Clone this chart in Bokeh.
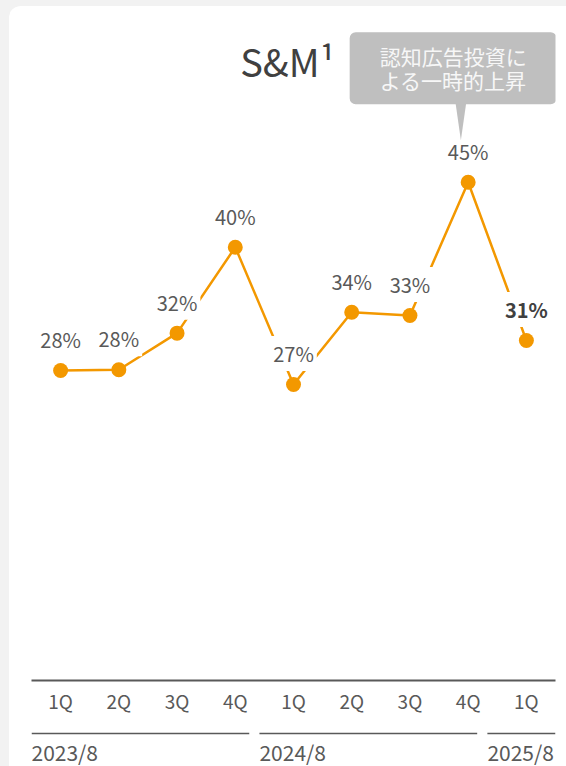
import numpy as np
from bokeh.plotting import figure
from bokeh.models import Range1d, FixedTicker, ColumnDataSource, Spacer
from bokeh.layouts import column, row
from bokeh.core.properties import value
from bokeh.embed import file_html
from bokeh.resources import INLINE

# ---- data ----
quarters = ["1Q", "2Q", "3Q", "4Q", "1Q", "2Q", "3Q", "4Q", "1Q"]
fiscal_years = ["2023/8", "2024/8", "2025/8"]
year_sizes = [4, 4, 1]
sm_ratio = [27.95, 28.02, 31.32, 39.07, 26.69, 33.21, 32.91, 44.93, 30.66]
sm_labels = ["28%", "28%", "32%", "40%", "27%", "34%", "33%", "45%", "31%"]
title_text = "S&M¹"
callout_text = "認知広告投資に\nよる一時的上昇"
callout_index = 7

# ---- style / layout ----
FONT = "Noto Sans CJK JP"
ORANGE = "#f39800"
GREY = "#595959"
DARK = "#404040"
CALLOUT = "#bfbfbf"
PAGE_BG = "#f2f2f2"
PAD_L, PAD_T = 9, 6
W = 566 - PAD_L
H1, H2 = 716, 44
BL, BR, BB = 22, 11, 42
FRAME_H = H1 - BB
PPU_Y = 11.09
Y_END = FRAME_H / PPU_Y

n = len(quarters)
xs = list(range(n))
ppu_x = (W - BL - BR) / n
ppu_y = FRAME_H / Y_END
x_range = Range1d(-0.5, n - 0.5)

p = figure(width=W, height=H1, x_range=x_range, y_range=Range1d(0, Y_END),
           output_backend="svg", toolbar_location=None, y_axis_location=None,
           min_border_left=BL, min_border_right=BR, min_border_top=0, min_border_bottom=BB,
           outline_line_color=None, background_fill_color="white", border_fill_color="white")
p.grid.visible = False
p.styles = {"border-top-left-radius": "12px", "overflow": "hidden",
            "background-color": "white"}

ax = p.xaxis[0]
ax.ticker = FixedTicker(ticks=xs)
ax.major_label_overrides = {i: q for i, q in enumerate(quarters)}
ax.axis_line_color = GREY
ax.axis_line_width = 2
ax.major_tick_line_color = None
ax.minor_tick_line_color = None
ax.major_label_standoff = 0
ax.major_label_text_font = FONT
ax.major_label_text_font_size = "19px"
ax.major_label_text_color = GREY

# series
p.line(xs, sm_ratio, line_color=ORANGE, line_width=2.5)
p.scatter(xs, sm_ratio, size=15, fill_color=ORANGE, line_color=None)

last = n - 1
lab_src = ColumnDataSource(dict(
    x=xs, y=sm_ratio, text=sm_labels,
    style=["bold" if i == last else "normal" for i in xs],
    color=[DARK if i == last else GREY for i in xs],
))
p.text("x", "y", text="text", source=lab_src, y_offset=-31,
       text_align="center", text_baseline="middle",
       text_font=value(FONT), text_font_size="20px",
       text_font_style="style", text_color="color",
       background_fill_color="white", padding=3)

# callout pointer + box
cx, cy = callout_index, sm_ratio[callout_index]
p.patch([cx - 13.3 / ppu_x, cx - 1.3 / ppu_x, cx - 7.3 / ppu_x],
        [cy + 84 / ppu_y, cy + 84 / ppu_y, cy + 42 / ppu_y],
        fill_color=CALLOUT, line_color=None)
p.text([cx], [cy], text=[callout_text], x_offset=-15, y_offset=-114,
       text_align="center", text_baseline="middle",
       text_font=value(FONT), text_font_size="21px", text_line_height=0.8,
       text_color="#f7f7f7", background_fill_color=CALLOUT,
       padding=dict(left=30, right=30, top=9, bottom=9), border_radius=6)

# title
p.text([(n - 1) / 2 - 0.1], [Y_END - 54 / ppu_y], text=[title_text],
       text_align="center", text_baseline="alphabetic",
       text_font=value(FONT), text_font_size="38px", text_color=DARK)

# ---- fiscal-year group row ----
p2 = figure(width=W, height=H2, x_range=x_range, y_range=Range1d(H2, 0),
            output_backend="svg", toolbar_location=None,
            x_axis_location=None, y_axis_location=None,
            min_border_left=BL, min_border_right=BR, min_border_top=0, min_border_bottom=0,
            outline_line_color=None,
            background_fill_color="white", border_fill_color="white")
p2.grid.visible = False
p2.styles = {"background-color": "white"}

starts = np.cumsum([0] + year_sizes[:-1])
g_left, g_right = [], []
for gi, (s, sz) in enumerate(zip(starts, year_sizes)):
    left = s - 0.5 - 0.085 * gi
    right = s + sz - 0.76 - 0.085 * gi
    if gi == len(year_sizes) - 1:
        right = x_range.end
    g_left.append(left)
    g_right.append(right)

p2.segment(g_left, [11] * len(g_left), g_right, [11] * len(g_left),
           line_color=GREY, line_width=1.5)
p2.text(g_left, [29] * len(g_left), text=fiscal_years,
        text_align="left", text_baseline="middle",
        text_font=value(FONT), text_font_size="21px", text_color=GREY)

layout = row(Spacer(width=PAD_L, height=PAD_T + H1 + H2),
             column(Spacer(width=W, height=PAD_T), p, p2, spacing=0),
             spacing=0, styles={"background-color": PAGE_BG})
open("out.html", "w").write(file_html(layout, INLINE))
